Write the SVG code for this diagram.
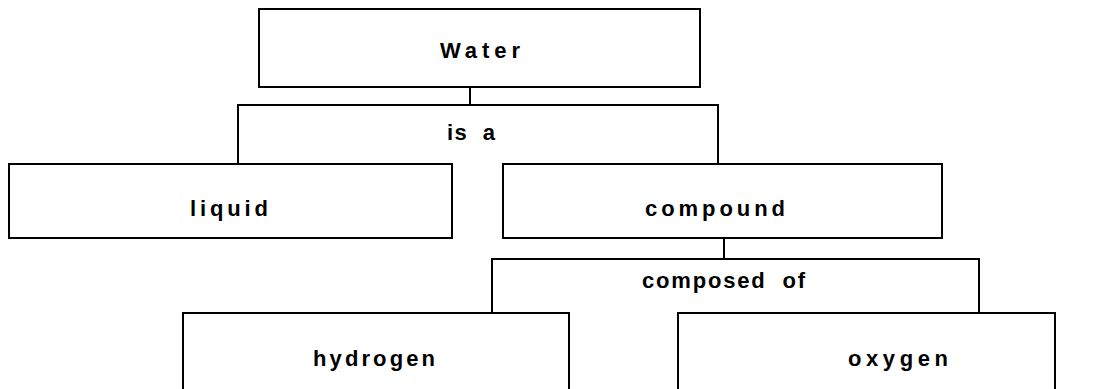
<svg xmlns="http://www.w3.org/2000/svg" width="1112" height="389" viewBox="0 0 1112 389">
<style>
.box{fill:#fff;stroke:#000;stroke-width:2}
.lbl{font-family:"Liberation Sans",Arial,sans-serif;font-weight:bold;font-size:22px;fill:#000;white-space:pre}
.conn{fill:none;stroke:#000;stroke-width:2}
</style>
<rect width="1112" height="389" fill="#fff"/>
<g id="connectors">
<path class="conn" d="M470 87 V105"/>
<path class="conn" d="M238 164 V105 H718 V164"/>
<path class="conn" d="M724 238 V259"/>
<path class="conn" d="M492 313 V259 H979 V313"/>
<text class="lbl" x="447" y="140" textLength="48" lengthAdjust="spacing">is  a</text>
<text class="lbl" x="642" y="288" textLength="163" lengthAdjust="spacing">composed  of</text>
</g>
<g id="water">
<rect class="box" x="259" y="9" width="441" height="78"/>
<text class="lbl" x="440" y="58" textLength="80" lengthAdjust="spacing">Water</text>
</g>
<g id="liquid">
<rect class="box" x="9" y="164" width="443" height="74"/>
<text class="lbl" x="190" y="216" textLength="78" lengthAdjust="spacing">liquid</text>
</g>
<g id="compound">
<rect class="box" x="503" y="164" width="439" height="74"/>
<text class="lbl" x="645" y="216" textLength="140" lengthAdjust="spacing">compound</text>
</g>
<g id="hydrogen">
<rect class="box" x="183" y="313" width="386" height="100"/>
<text class="lbl" x="313" y="366" textLength="122" lengthAdjust="spacing">hydrogen</text>
</g>
<g id="oxygen">
<rect class="box" x="678" y="313" width="377" height="100"/>
<text class="lbl" x="848" y="366" textLength="100" lengthAdjust="spacing">oxygen</text>
</g>
</svg>
